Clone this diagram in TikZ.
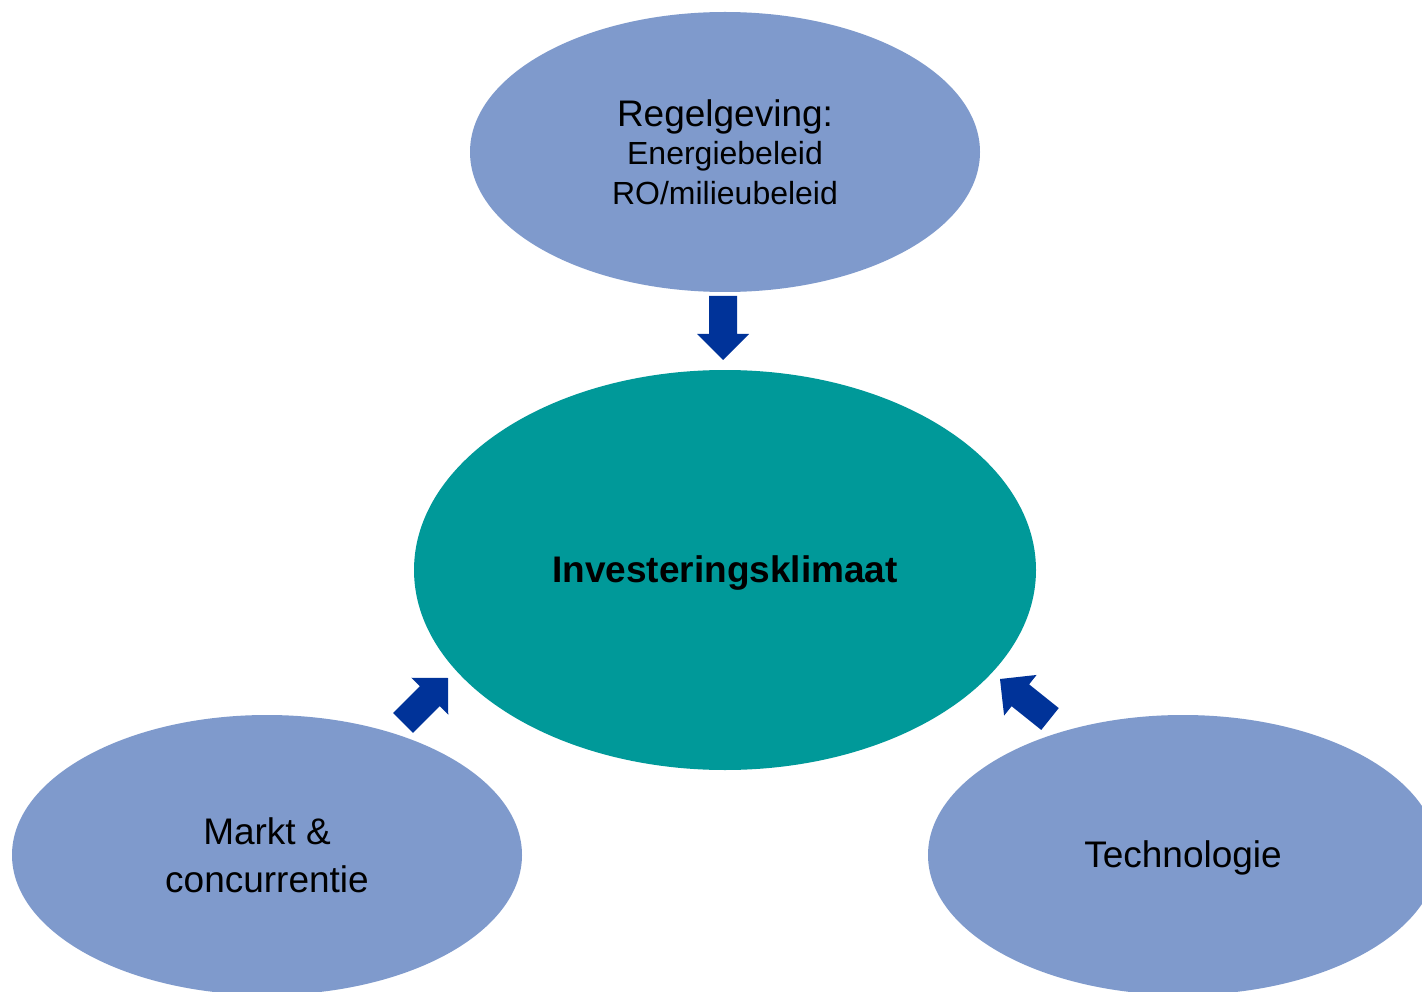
\documentclass[tikz,border=0pt]{standalone}
\usepackage{fontspec}
\setmainfont{Liberation Sans}
\usetikzlibrary{shapes.geometric,calc}
\definecolor{factorblue}{HTML}{7F9ACC}
\definecolor{coreteal}{HTML}{009999}
\definecolor{arrowblue}{HTML}{003399}
\tikzset{
  factor/.style={ellipse, fill=factorblue, draw=none, inner sep=0pt,
    minimum width=510pt, minimum height=280pt, align=center, text=black,
    font=\fontsize{37}{48}\selectfont},
  core/.style={ellipse, fill=coreteal, draw=none, inner sep=0pt,
    minimum width=622pt, minimum height=400pt, align=center, text=black,
    font=\fontsize{37}{44}\selectfont\bfseries},
  blockarrow/.style={fill=arrowblue, draw=none}
}
% text lowered a little while keeping its box centred
\newcommand{\lowered}[1]{\raisebox{-3pt}[\height][\depth]{#1}}
% block arrow from tail #1 to tip #2, head base named #3
\newcommand{\blockarrowpath}[3]{%
  \coordinate (#3) at ($(#1)!38pt!(#2)$);
  \fill[blockarrow] ($(#1)!14pt!90:(#2)$) -- ($(#3)!14pt!90:(#2)$)
    -- ($(#3)!26pt!90:(#2)$) -- (#2) -- ($(#3)!26pt!-90:(#2)$)
    -- ($(#3)!14pt!-90:(#2)$) -- ($(#1)!14pt!-90:(#2)$) -- cycle;}
\begin{document}
\begin{tikzpicture}[x=1pt,y=-1pt]
  \useasboundingbox (0,0) rectangle (1422,992);
  \clip (0,0) rectangle (1422,992);
  \fill[white] (0,0) rectangle (1422,992);

  \node[core] (climate) at (725,570) {\lowered{Investeringsklimaat}};
  \node[factor, font=\fontsize{32}{40}\selectfont] (rules) at (725,152)
    {{\fontsize{37}{40}\selectfont Regelgeving:}\\[-2pt]
     Energiebeleid\\
     RO/milieubeleid};
  \node[factor] (market) at (267,855) {Markt \&\\concurrentie};
  \node[factor] (tech) at (1183,855) {\lowered{Technologie}};

  % arrows pointing from each factor towards the core
  \coordinate (rulesTail) at (723,296);
  \coordinate (rulesTip) at (723,360);
  \coordinate (marketTail) at (403,723);
  \coordinate (marketTip) at (448,678);
  \coordinate (techTail) at (1050,719);
  \coordinate (techTip) at (1000,679);
  \blockarrowpath{rulesTail}{rulesTip}{rulesHead}
  \blockarrowpath{marketTail}{marketTip}{marketHead}
  \blockarrowpath{techTail}{techTip}{techHead}
\end{tikzpicture}
\end{document}
